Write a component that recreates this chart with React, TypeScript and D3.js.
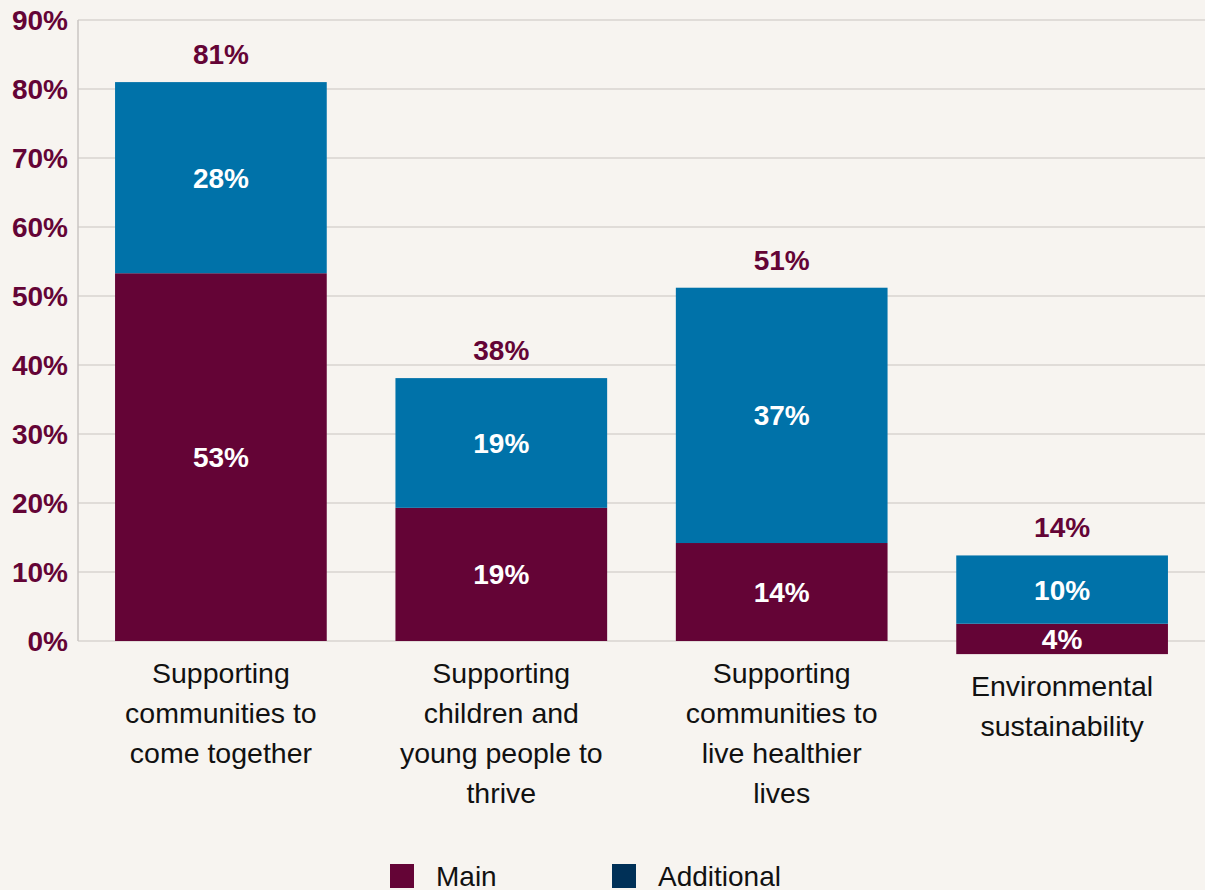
import React from "react";
import * as d3 from "d3";

const categoryLines: string[][] = [
  ["Supporting", "communities to", "come together"],
  ["Supporting", "children and", "young people to", "thrive"],
  ["Supporting", "communities to", "live healthier", "lives"],
  ["Environmental", "sustainability"],
];
const mainValues = [53.3, 19.3, 14.2, 4.4];
const additionalValues = [27.7, 18.8, 37.0, 9.9];
const baseOffsets = [0, 0, 0, -1.9];
const yTicks = [0, 10, 20, 30, 40, 50, 60, 70, 80, 90];
const seriesNames = ["Main", "Additional"];

const W = 1205;
const H = 890;
const MAROON = "#640436";
const BLUE = "#0072a9";
const NAVY = "#003057";
const BG = "#f7f4f0";
const FONT = "'Liberation Sans', Arial, sans-serif";

export default function App() {
  const x = d3
    .scaleBand<number>()
    .domain(d3.range(categoryLines.length))
    .range([80, 1203])
    .paddingInner(0.245)
    .paddingOuter(0.125);
  const y = d3.scaleLinear().domain([0, 90]).range([641, 20]);
  const fmt = (v: number) => `${Math.round(v)}%`;

  return (
    <svg
      width={W}
      height={H}
      style={{ position: "absolute", left: 0, top: 0, background: BG, fontFamily: FONT }}
    >
      <rect x={0} y={0} width={W} height={H} fill={BG} />
      {yTicks.map((t) => (
        <g key={t}>
          <line x1={78} x2={W} y1={y(t)} y2={y(t)} stroke="#d8d4d0" strokeWidth={1.5} />
          <text
            x={68}
            y={y(t)}
            dy="0.36em"
            textAnchor="end"
            fontSize={28}
            fontWeight="bold"
            fill={MAROON}
          >
            {t}%
          </text>
        </g>
      ))}
      <line x1={78} x2={78} y1={y(90)} y2={y(0)} stroke="#cac6c3" strokeWidth={1.5} />
      {categoryLines.map((lines, i) => {
        const bx = x(i)!;
        const bw = x.bandwidth();
        const cx = bx + bw / 2;
        const base = baseOffsets[i];
        const mTop = base + mainValues[i];
        const aTop = mTop + additionalValues[i];
        const total = mainValues[i] + additionalValues[i];
        return (
          <g key={i}>
            <rect x={bx} y={y(mTop)} width={bw} height={y(base) - y(mTop)} fill={MAROON} />
            <rect x={bx} y={y(aTop)} width={bw} height={y(mTop) - y(aTop)} fill={BLUE} />
            <text
              x={cx}
              y={(y(base) + y(mTop)) / 2}
              dy="0.36em"
              textAnchor="middle"
              fontSize={28}
              fontWeight="bold"
              fill="#ffffff"
            >
              {fmt(mainValues[i])}
            </text>
            <text
              x={cx}
              y={(y(mTop) + y(aTop)) / 2}
              dy="0.36em"
              textAnchor="middle"
              fontSize={28}
              fontWeight="bold"
              fill="#ffffff"
            >
              {fmt(additionalValues[i])}
            </text>
            <text
              x={cx}
              y={y(aTop) - 18}
              textAnchor="middle"
              fontSize={28}
              fontWeight="bold"
              fill={MAROON}
            >
              {fmt(total)}
            </text>
            {lines.map((ln, j) => (
              <text
                key={j}
                x={cx}
                y={y(base) + 42 + j * 40}
                textAnchor="middle"
                fontSize={28.5}
                fill="#111111"
              >
                {ln}
              </text>
            ))}
          </g>
        );
      })}
      {seriesNames.map((name, i) => {
        const lx = 390 + i * 222;
        return (
          <g key={name}>
            <rect x={lx} y={864} width={24} height={24} fill={i === 0 ? MAROON : NAVY} />
            <text x={lx + 46} y={886} fontSize={28} fill="#111111">
              {name}
            </text>
          </g>
        );
      })}
    </svg>
  );
}
